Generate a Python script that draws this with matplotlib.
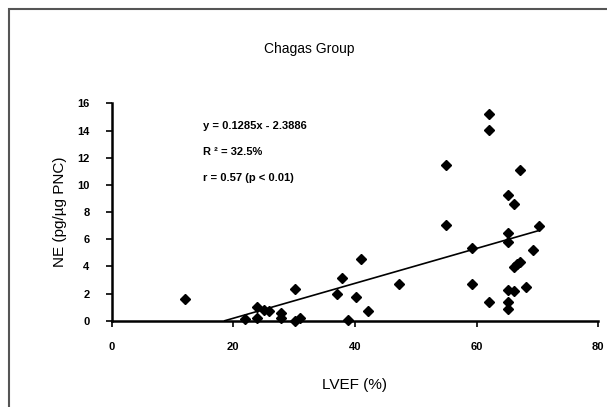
import numpy as np
import matplotlib
matplotlib.use("Agg")
import matplotlib.pyplot as plt
from matplotlib.patches import Rectangle

# LVEF (%) vs NE (pg/ug PNC)
lvef = [12.1, 22.0, 23.9, 23.9, 25.0, 25.9, 27.8, 27.8, 30.2, 30.2, 31.0,
        37.0, 37.9, 38.9, 40.2, 41.0, 42.2, 47.2, 55.0, 55.0, 59.2, 59.2,
        62.0, 62.0, 62.0, 65.1, 65.1, 65.1, 65.1, 65.1, 65.1, 66.2, 66.2,
        66.2, 66.7, 67.2, 67.1, 68.2, 69.3, 70.2]
ne = [1.6, 0.13, 0.98, 0.22, 0.79, 0.71, 0.54, 0.22, 2.36, 0.0, 0.17,
      2.0, 3.12, 0.08, 1.71, 4.55, 0.74, 2.7, 11.43, 7.06, 5.33, 2.7,
      15.25, 14.07, 1.35, 9.22, 6.45, 5.78, 2.28, 1.35, 0.85, 8.56, 2.21,
      3.93, 4.17, 4.3, 11.07, 2.46, 5.21, 6.96]

slope, intercept = 0.1285, -2.3886
xticks = [0, 20, 40, 60, 80]
yticks = [0, 2, 4, 6, 8, 10, 12, 14, 16]

fam = ['Liberation Sans Narrow', 'Liberation Sans', 'DejaVu Sans']

fig = plt.figure(figsize=(6.07, 4.07), dpi=100)
ax = fig.add_axes([0.184, 0.212, 0.8015, 0.534])

# regression line
lx = np.array([-intercept / slope, max(lvef)])
ax.plot(lx, slope * lx + intercept, color='black', linewidth=1.2)
ax.plot(lvef, ne, linestyle='none', marker='D', markersize=5.5,
        color='black', clip_on=False)

ax.set_xlim(0, 80)
ax.set_ylim(0, 16)
ax.set_xticks(xticks)
ax.set_yticks(yticks)
ax.set_xticklabels([str(v) for v in xticks], fontsize=8, fontweight='bold', family=fam)
ax.set_yticklabels([str(v) for v in yticks], fontsize=8, fontweight='bold', family=fam)
ax.tick_params(direction='out', length=4, width=1.2)
ax.tick_params(axis='x', pad=11)
ax.tick_params(axis='y', pad=12)
for s in ['top', 'right']:
    ax.spines[s].set_visible(False)
for s in ['left', 'bottom']:
    ax.spines[s].set_linewidth(1.8)

ax.set_xlabel('LVEF (%)', fontsize=11, family=fam, labelpad=19)
ax.set_ylabel('NE (pg/µg PNC)', fontsize=11, family=fam, labelpad=7)

ax.text(0.188, 0.895, 'y = 0.1285x - 2.3886', transform=ax.transAxes,
        fontsize=8, fontweight='bold', family=fam, va='center')
ax.text(0.188, 0.775, 'R ² = 32.5%', transform=ax.transAxes,
        fontsize=8, fontweight='bold', family=fam, va='center')
ax.text(0.188, 0.655, 'r = 0.57 (p < 0.01)', transform=ax.transAxes,
        fontsize=8, fontweight='bold', family=fam, va='center')

fig.text(0.509, 0.88, 'Chagas Group', fontsize=10, family=fam, ha='center', va='center')

# outer frame (right and bottom edges fall outside the image)
fig.patches.append(Rectangle((8.5 / 607, -0.05), 1.2, 1.05 - 8.5 / 407,
                             transform=fig.transFigure, fill=False,
                             edgecolor='#555555', linewidth=1.5))

fig.savefig('out.png', dpi=100)
